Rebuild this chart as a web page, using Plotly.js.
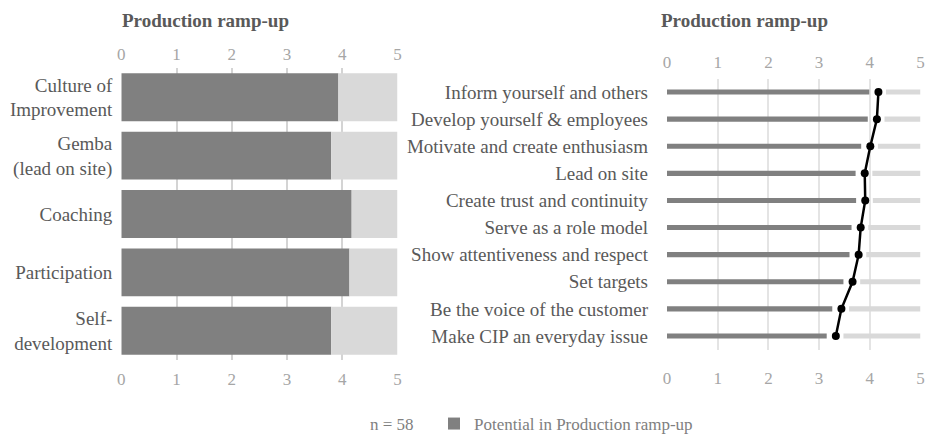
<!DOCTYPE html>
<html>
<head>
<meta charset="utf-8">
<script src="https://cdn.plot.ly/plotly-3.0.1.min.js"></script>
<style>html,body{margin:0;padding:0;background:#fff;}#chart{width:925px;height:435px;}</style>
</head>
<body>
<div id="chart"></div>
<script>
// ---- data ----
const leftCategories = ["Culture of<br>Improvement", "Gemba<br>(lead on site)", "Coaching", "Participation", "Self-<br>development"];
const leftScores = [3.93, 3.80, 4.17, 4.13, 3.80];
const rightCategories = ["Inform yourself and others", "Develop yourself & employees", "Motivate and create enthusiasm", "Lead on site", "Create trust and continuity", "Serve as a role model", "Show attentiveness and respect", "Set targets", "Be the voice of the customer", "Make CIP an everyday issue"];
const rightScores = [4.17, 4.14, 4.01, 3.90, 3.91, 3.82, 3.78, 3.66, 3.44, 3.33];
const scaleMax = 5;
const tickValues = [0, 1, 2, 3, 4, 5];
const panelTitle = "Production ramp-up";
const legendName = "Potential in Production ramp-up";
const sampleNote = "n = 58";

// ---- style ----
const W = 925, H = 435;
const dark = "#808080", light = "#d9d9d9";
const serif = "'Liberation Serif', 'Times New Roman', serif";
const gapBefore = 0.18, gapAfter = 0.15;

const traces = [
  { type: "bar", orientation: "h", x: leftScores, y: leftCategories, xaxis: "x", yaxis: "y",
    marker: { color: dark }, width: 0.82, name: legendName, showlegend: true, hoverinfo: "x+y" },
  { type: "bar", orientation: "h", x: leftScores.map(v => scaleMax - v), base: leftScores, y: leftCategories,
    xaxis: "x", yaxis: "y", marker: { color: light }, width: 0.82, showlegend: false, hoverinfo: "skip" },
  { type: "scatter", mode: "markers", x: leftScores, y: leftCategories, xaxis: "x3", yaxis: "y",
    marker: { opacity: 0 }, showlegend: false, hoverinfo: "skip" },
  { type: "bar", orientation: "h", x: rightScores.map(v => v - gapBefore), y: rightCategories, xaxis: "x2", yaxis: "y2",
    marker: { color: dark }, width: 0.19, showlegend: false, hoverinfo: "skip" },
  { type: "bar", orientation: "h", x: rightScores.map(v => scaleMax - v - gapAfter), base: rightScores.map(v => v + gapAfter),
    y: rightCategories, xaxis: "x2", yaxis: "y2", marker: { color: light }, width: 0.19, showlegend: false, hoverinfo: "skip" },
  { type: "scatter", mode: "lines+markers", x: rightScores, y: rightCategories, xaxis: "x2", yaxis: "y2",
    line: { color: "#000", width: 2.5 }, marker: { color: "#000", size: 8 }, showlegend: false, hoverinfo: "x+y" },
  { type: "scatter", mode: "markers", x: rightScores, y: rightCategories, xaxis: "x4", yaxis: "y2",
    marker: { opacity: 0 }, showlegend: false, hoverinfo: "skip" }
];

const tickFont = { family: serif, size: 17, color: "#a6a6a6" };
const labelFont = { family: serif, size: 19, color: "#595959" };

function xAx(domain, anchor, side, extra) {
  return Object.assign({
    domain: domain, anchor: anchor, side: side, range: [0, scaleMax], tickvals: tickValues,
    ticks: "", showline: false, zeroline: false, tickfont: tickFont, fixedrange: true
  }, extra);
}

const leftDom = [121.3 / W, 397.5 / W];
const rightDom = [667 / W, 920.5 / W];

const layout = {
  width: W, height: H,
  margin: { l: 0, r: 0, t: 0, b: 0, autoexpand: false },
  paper_bgcolor: "#fff", plot_bgcolor: "rgba(0,0,0,0)",
  barmode: "overlay",
  font: { family: serif },
  xaxis: xAx(leftDom, "y", "bottom", { showgrid: true, gridcolor: "#d4d4d4", gridwidth: 1.5, ticklabelstandoff: 7 }),
  xaxis3: xAx(leftDom, "y", "top", { overlaying: "x", showgrid: false, ticklabelstandoff: 4 }),
  yaxis: { domain: [(H - 360) / H, (H - 68) / H], anchor: "x", range: [leftCategories.length - 0.5, -0.5], type: "category",
    ticks: "", showgrid: false, zeroline: false, showline: false, tickfont: labelFont, ticklabelstandoff: 8, fixedrange: true },
  xaxis2: xAx(rightDom, "y2", "bottom", { showgrid: true, gridcolor: "#e4e4e4", gridwidth: 1.5, ticklabelstandoff: 16 }),
  xaxis4: xAx(rightDom, "y2", "top", { overlaying: "x2", showgrid: false, ticklabelstandoff: 6 }),
  yaxis2: { domain: [(H - 349.5) / H, (H - 78.5) / H], anchor: "x2", range: [rightCategories.length - 0.5, -0.5], type: "category",
    ticks: "", showgrid: false, zeroline: false, showline: false, tickfont: labelFont, ticklabelstandoff: 18, fixedrange: true },
  showlegend: true,
  legend: { orientation: "h", x: 434 / W, xanchor: "left", y: (H - 424) / H, yanchor: "middle",
    font: { family: serif, size: 17, color: "#808080" }, bgcolor: "rgba(0,0,0,0)" },
  annotations: [
    { text: "<b>" + panelTitle + "</b>", xref: "paper", yref: "paper", x: 205 / W, y: (H - 20) / H,
      xanchor: "center", yanchor: "middle", showarrow: false, font: { family: serif, size: 19, color: "#595959" } },
    { text: "<b>" + panelTitle + "</b>", xref: "paper", yref: "paper", x: 744.5 / W, y: (H - 21) / H,
      xanchor: "center", yanchor: "middle", showarrow: false, font: { family: serif, size: 19, color: "#595959" } },
    { text: sampleNote, xref: "paper", yref: "paper", x: 392 / W, y: (H - 424) / H,
      xanchor: "center", yanchor: "middle", showarrow: false, font: { family: serif, size: 17, color: "#808080" } }
  ]
};

Plotly.newPlot("chart", traces, layout, { displayModeBar: false });
</script>
</body>
</html>
